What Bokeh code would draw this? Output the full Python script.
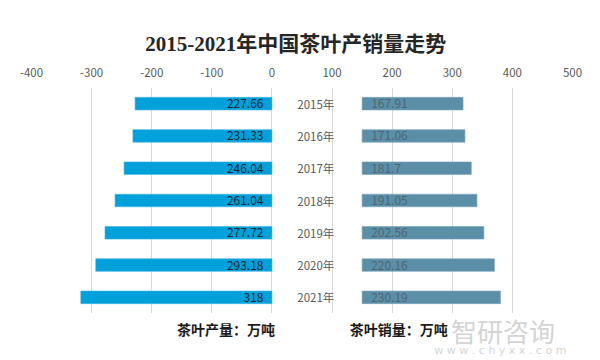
from bokeh.plotting import figure
from bokeh.models import Range1d, FactorRange, FixedTicker, ColumnDataSource
from bokeh.layouts import column
from bokeh.core.properties import value
from bokeh.embed import file_html
from bokeh.resources import INLINE

# ---- data ----
years = ["2015年", "2016年", "2017年", "2018年", "2019年", "2020年", "2021年"]
production = [227.66, 231.33, 246.04, 261.04, 277.72, 293.18, 318]
sales = [167.91, 171.06, 181.7, 191.05, 202.56, 220.16, 230.19]
ticks = [-400, -300, -200, -100, 0, 100, 200, 300, 400, 500]
tick_labels = ["-400", "-300", "-200", "-100", "0", "100", "200", "300", "400", "500"]
title_text = "2015-2021年中国茶叶产销量走势"
left_name = "茶叶产量：万吨"
right_name = "茶叶销量：万吨"

OFFSET = 150  # start of the sales bars on the shared axis

CJK = "Noto Sans CJK SC"
NUM = "Noto Sans CJK SC"
W = 600


def blank(height):
    f = figure(width=W, height=height, output_backend="svg", toolbar_location=None,
               x_range=Range1d(0, W), y_range=Range1d(0, height),
               x_axis_type=None, y_axis_type=None,
               min_border_left=0, min_border_right=0, min_border_top=0, min_border_bottom=0)
    f.outline_line_color = None
    f.xgrid.visible = False
    f.ygrid.visible = False
    f.background_fill_color = "white"
    f.border_fill_color = "white"
    return f


# ---- title strip ----
top = blank(55)
top.text(x=[293], y=[12], text=[title_text], text_align="center", text_baseline="middle",
         text_font=value("Liberation Serif, Noto Sans CJK SC"), text_font_size="21px",
         text_font_style="bold", text_color="#262626")

# ---- main chart ----
src = ColumnDataSource(dict(
    year=years,
    prod_left=[-v for v in production],
    zero=[0] * len(years),
    sales_left=[OFFSET] * len(years),
    sales_right=[OFFSET + v for v in sales],
    prod_lbl=[f"{v:g}" for v in production],
    sales_lbl=[f"{v:g}" for v in sales],
    prod_lbl_x=[-14] * len(years),
    sales_lbl_x=[OFFSET + 15] * len(years),
    year_x=[73] * len(years),
))

p = figure(width=W, height=258, output_backend="svg", toolbar_location=None,
           x_range=Range1d(-400, 500), y_range=FactorRange(factors=years[::-1]),
           x_axis_location="above",
           min_border_left=31, min_border_right=28, min_border_top=32, min_border_bottom=0)
p.outline_line_color = None
p.background_fill_color = "white"
p.border_fill_color = "white"

p.yaxis.visible = False
ax = p.xaxis[0]
ax.ticker = FixedTicker(ticks=ticks)
ax.major_label_overrides = {t: l for t, l in zip(ticks, tick_labels)}
ax.axis_line_color = None
ax.major_tick_line_color = None
ax.minor_tick_line_color = None
ax.major_label_text_color = "#595959"
ax.major_label_text_font = NUM
ax.major_label_text_font_size = "11.5px"
ax.major_label_standoff = 5

p.xgrid.grid_line_color = "#d9d9d9"
p.xgrid.ticker = FixedTicker(ticks=ticks)
p.ygrid.grid_line_color = None

p.hbar(y="year", left="prod_left", right="zero", height=0.39, source=src,
       fill_color="#00a0da", line_color="#3fb6e2", line_width=0.6)
p.hbar(y="year", left="sales_left", right="sales_right", height=0.39, source=src,
       fill_color="#5b8fa8", line_color="#7aa6ba", line_width=0.6)

p.text(x="prod_lbl_x", y="year", text="prod_lbl", source=src, text_align="right",
       text_baseline="middle", text_font=value(NUM), text_font_size="12px", text_color="#1f2630")
p.text(x="sales_lbl_x", y="year", text="sales_lbl", source=src, text_align="left",
       text_baseline="middle", text_font=value(NUM), text_font_size="12px", text_color="#4f6672")
p.text(x="year_x", y="year", text="year", source=src, text_align="center",
       text_baseline="middle", text_font=value(NUM), text_font_size="11.5px", text_color="#595959")

# ---- bottom strip: series names + watermark ----
bot = blank(47)
bot.text(x=[270], y=[32], text=[left_name], text_align="right", text_baseline="middle",
         text_font=value(CJK), text_font_size="14px", text_font_style="bold", text_color="#1a1a1a")
bot.text(x=[353], y=[32], text=[right_name], text_align="left", text_baseline="middle",
         text_font=value(CJK), text_font_size="14px", text_font_style="bold", text_color="#1a1a1a")
bot.text(x=[523], y=[30], text=["智研咨询"], text_align="center", text_baseline="middle",
         text_font=value(CJK), text_font_size="26px", text_color="#c8c8c8", text_alpha=0.8)
bot.text(x=[520], y=[10], text=["w w w . c h y x x . c o m"], text_align="center",
         text_baseline="middle", text_font=value("DejaVu Sans"), text_font_size="11px",
         text_color="#c8c8c8", text_alpha=0.8)

layout = column(top, p, bot, spacing=0)
open("out.html", "w").write(file_html(layout, INLINE))
